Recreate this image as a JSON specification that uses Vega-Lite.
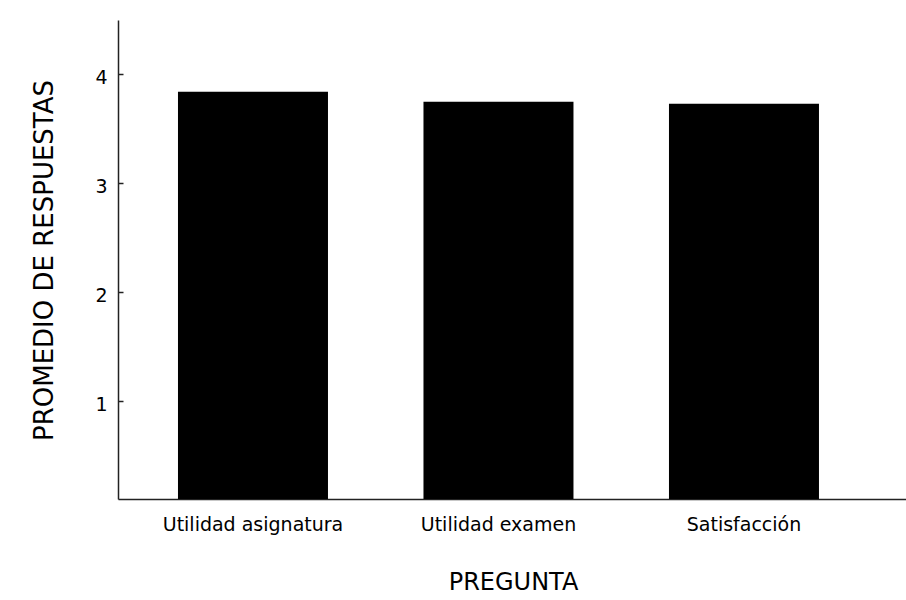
{
  "$schema": "https://vega.github.io/schema/vega-lite/v6.json",
  "autosize": "none",
  "width": 788,
  "height": 479,
  "padding": {"left": 118, "top": 20, "right": 0, "bottom": 101},
  "background": "white",
  "data": {
    "values": [
      {"pregunta": "Utilidad asignatura", "promedio": 3.84},
      {"pregunta": "Utilidad examen", "promedio": 3.75},
      {"pregunta": "Satisfacción", "promedio": 3.73}
    ]
  },
  "mark": {"type": "bar", "color": "black", "clip": true},
  "encoding": {
    "x": {
      "field": "pregunta",
      "type": "nominal",
      "sort": null,
      "scale": {"paddingInner": 0.389, "paddingOuter": 0.2994, "align": 0.408},
      "axis": {
        "title": "PREGUNTA",
        "ticks": false,
        "labelAngle": 0,
        "labelLimit": 0,
        "labelPadding": 16,
        "labelFont": "DejaVu Sans",
        "labelFontSize": 19,
        "labelColor": "#000",
        "domainColor": "#222",
        "domainWidth": 1.5,
        "titleFont": "DejaVu Sans",
        "titleFontSize": 24,
        "titleFontWeight": "normal",
        "titleColor": "#000",
        "titleBaseline": "alphabetic",
        "titleX": 395,
        "titleY": 90,
        "titleAnchor": "middle",
        "titleAlign": "center"
      }
    },
    "y": {
      "field": "promedio",
      "type": "quantitative",
      "scale": {"domain": [0.1, 4.5], "nice": false, "zero": false},
      "axis": {
        "title": "PROMEDIO DE RESPUESTAS",
        "values": [1, 2, 3, 4],
        "grid": false,
        "tickSize": -5,
        "tickColor": "#222",
        "tickWidth": 1.5,
        "labelPadding": 16,
        "labelOffset": 3,
        "labelFont": "DejaVu Sans",
        "labelFontSize": 19,
        "labelColor": "#000",
        "domainColor": "#222",
        "domainWidth": 1.5,
        "titleFont": "DejaVu Sans",
        "titleFontSize": 26,
        "titleFontWeight": "normal",
        "titleColor": "#000",
        "titleAngle": -90,
        "titleBaseline": "alphabetic",
        "titleAlign": "center",
        "titleX": -66,
        "titleY": 240
      }
    }
  },
  "config": {"view": {"stroke": null}}
}
